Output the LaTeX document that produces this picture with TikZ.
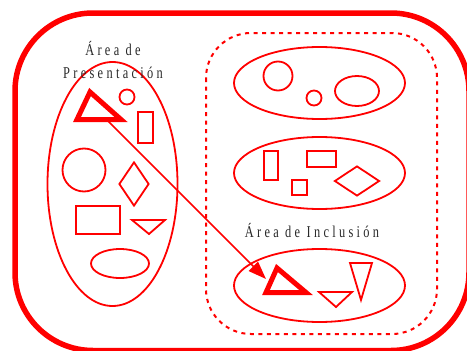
\documentclass[tikz,border=0pt]{standalone}
\usepackage{fontspec}
\newfontfamily\lblfont[LetterSpace=20,FakeStretch=0.75]{Liberation Serif}
\usetikzlibrary{arrows.meta,shapes.geometric}
\definecolor{inkgray}{RGB}{40,40,40}

\begin{document}
\begin{tikzpicture}[x=1pt,y=-1pt,
  frame/.style={draw=red,line width=5.5pt,rounded corners=78pt},
  zone/.style={draw=red,line width=2pt,dash pattern=on 4pt off 4.5pt,rounded corners=45pt},
  blob/.style={draw=red,line width=1.8pt,ellipse,inner sep=0pt},
  shp/.style={draw=red,line width=1.8pt,inner sep=0pt},
  thick/.style={draw=red,line width=5pt},
  lbl/.style={text=inkgray,font=\lblfont\fontsize{16.5}{23}\selectfont,align=center,inner sep=0pt},
  arr/.style={-{Triangle[length=18pt,width=13pt]},line width=1.6pt,red}]
  \useasboundingbox (0,0) rectangle (467,351);
  \clip (0,0) rectangle (467,351);
  \draw[frame] (15,13) rectangle (469,350.5);
  \draw[zone] (206,33) rectangle (437,334);
  % presentation area
  \node[blob,minimum width=130pt,minimum height=244pt] (pres) at (112.5,184) {};
  \draw[thick] (90,92) -- (77,119.5) -- (121,119.5) -- cycle;
  \coordinate (src) at (108,121);
  \node[shp,circle,minimum size=15pt] (c1) at (127,97) {};
  \node[shp,minimum width=15pt,minimum height=31pt] (r1) at (145.5,127.5) {};
  \node[shp,circle,minimum size=43pt] (c2) at (84,170) {};
  \node[shp,diamond,minimum width=30pt,minimum height=44pt] (d1) at (134,184) {};
  \node[shp,minimum width=44pt,minimum height=28pt] (r2) at (98,220) {};
  \draw[shp] (132,220) -- (165,220) -- (149,234) -- cycle;
  \node[blob,minimum width=58pt,minimum height=29pt] (e1) at (120,263.5) {};
  % inclusion area
  \node[blob,minimum width=171pt,minimum height=72pt] (top) at (319.5,83) {};
  \node[shp,circle,minimum size=29pt] (c3) at (278,76) {};
  \node[shp,circle,minimum size=15pt] (c4) at (314,98) {};
  \node[blob,minimum width=44pt,minimum height=30pt] (e2) at (357,91) {};
  \node[blob,minimum width=171pt,minimum height=72pt] (mid) at (319.5,173) {};
  \node[shp,minimum width=14pt,minimum height=29pt] (r3) at (271,165.5) {};
  \node[shp,minimum width=29pt,minimum height=16pt] (r4) at (321.5,159) {};
  \node[shp,minimum size=15pt] (s1) at (299.5,187.5) {};
  \node[shp,diamond,minimum width=45pt,minimum height=30pt] (d2) at (357,181) {};
  \node[blob,minimum width=171pt,minimum height=73pt] (bot) at (319.5,285.5) {};
  \draw[thick] (277,268) -- (266,292.5) -- (306,292.5) -- cycle;
  \coordinate (dst) at (266,279);
  \draw[shp] (319,292) -- (352,292) -- (336,307) -- cycle;
  \draw[shp] (350,263) -- (372,263) -- (361,300) -- cycle;
  \draw[arr] (src) -- (dst);
  % labels
  \node[lbl] (presname) at (113,60) {Área de\\Presentación};
  \node[lbl] (inclname) at (312,230) {Área de Inclusión};
\end{tikzpicture}
\end{document}
